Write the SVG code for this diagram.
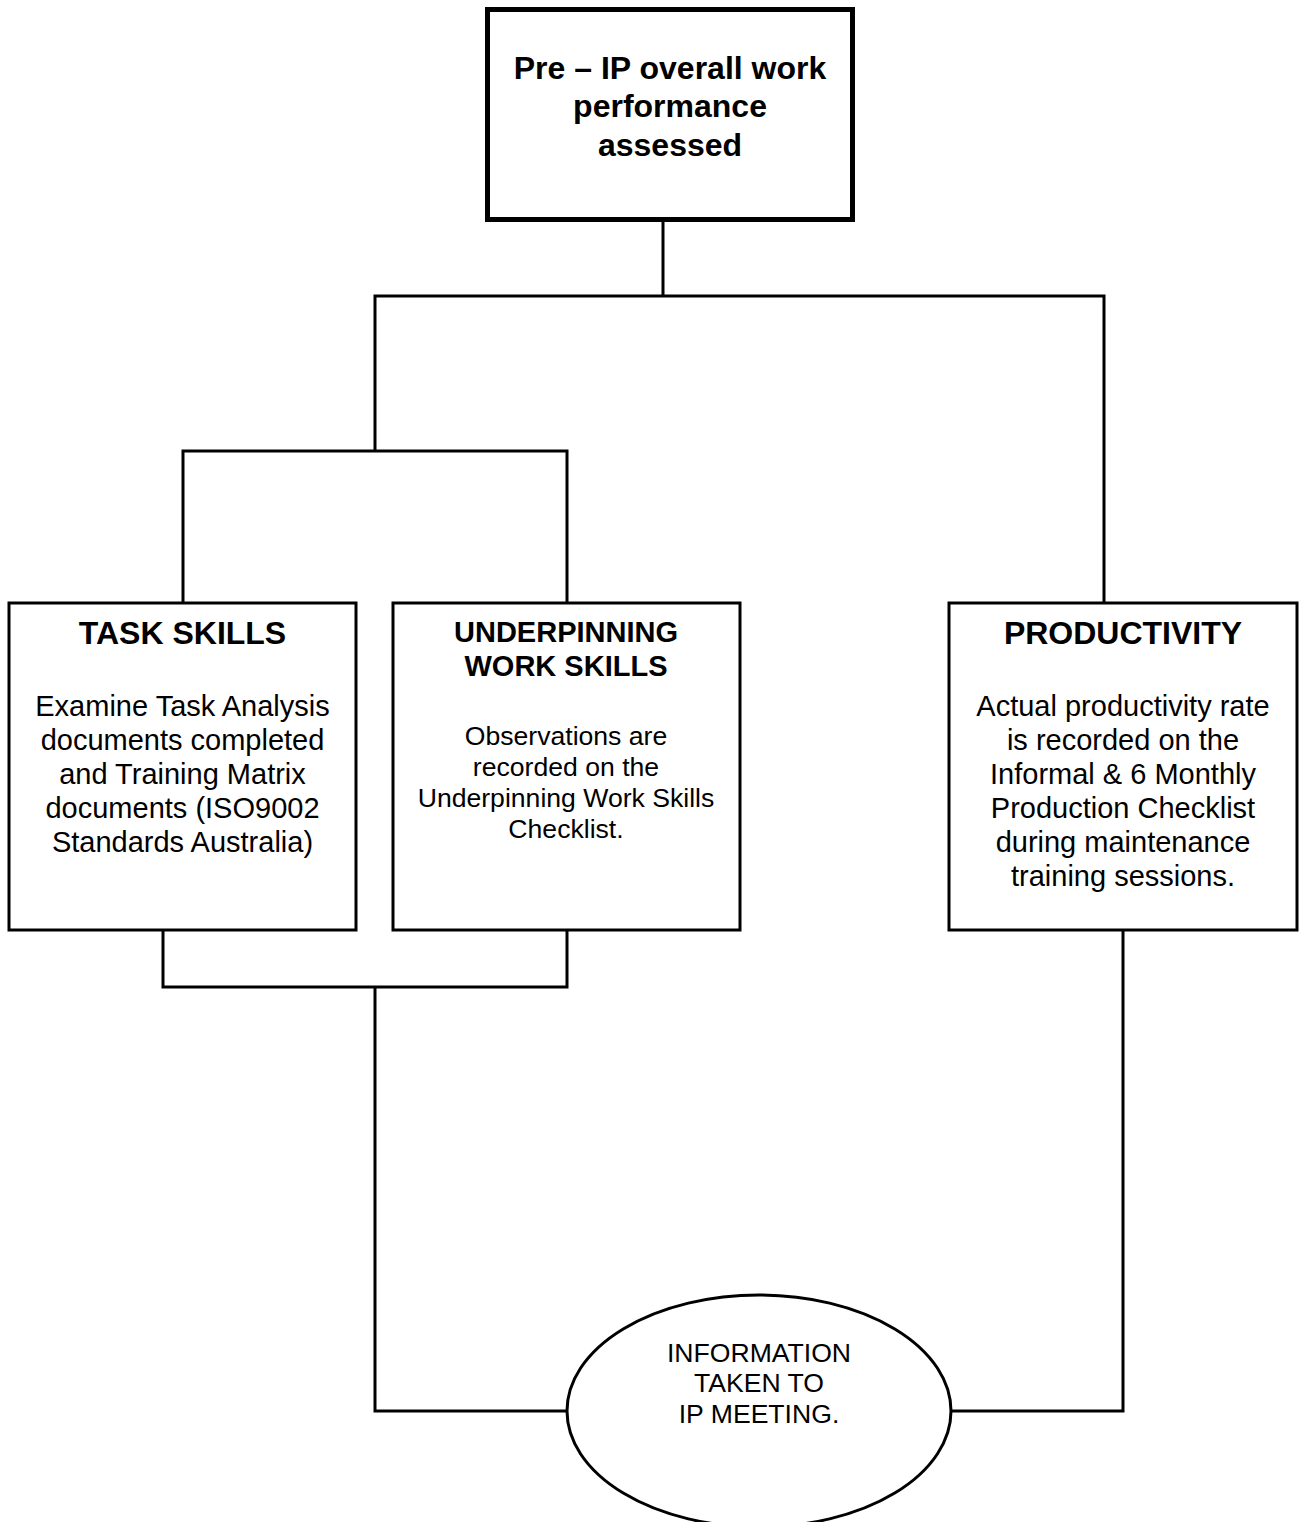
<svg xmlns="http://www.w3.org/2000/svg" width="1303" height="1522" viewBox="0 0 1303 1522">
<style>
  .box { fill: #fff; stroke: #000; stroke-width: 3; }
  .thick { stroke-width: 5; }
  .conn { fill: none; stroke: #000; stroke-width: 3; stroke-linecap: square; }
  text { font-family: "Liberation Sans", Arial, sans-serif; fill: #000; text-anchor: middle; }
  .h32 { font-size: 32px; font-weight: bold; }
  .h29 { font-size: 29px; font-weight: bold; }
  .b29 { font-size: 29px; }
  .b26 { font-size: 26.6px; }
</style>
<rect width="1303" height="1522" fill="#fff"/>
<g id="connectors">
  <path class="conn" d="M663 220 V296 M375 296 H1104 M375 296 V451 M183 451 H567 M183 451 V603 M567 451 V603 M1104 296 V603"/>
  <path class="conn" d="M163 930 V987 M567 930 V987 M163 987 H567 M375 987 V1411 H568"/>
  <path class="conn" d="M1123 930 V1411 H950"/>
</g>
<g id="node-top">
  <rect class="box thick" x="487.5" y="9.5" width="365" height="210"/>
  <text class="h32" x="670" y="79">Pre – IP overall work</text>
  <text class="h32" x="670" y="117">performance</text>
  <text class="h32" x="670" y="156">assessed</text>
</g>
<g id="node-task">
  <rect class="box" x="9" y="603" width="347" height="327"/>
  <text class="h32" x="182.5" y="644">TASK SKILLS</text>
  <text class="b29" x="182.5" y="716">Examine Task Analysis</text>
  <text class="b29" x="182.5" y="750">documents completed</text>
  <text class="b29" x="182.5" y="784">and Training Matrix</text>
  <text class="b29" x="182.5" y="818">documents (ISO9002</text>
  <text class="b29" x="182.5" y="852">Standards Australia)</text>
</g>
<g id="node-underpinning">
  <rect class="box" x="393" y="603" width="347" height="327"/>
  <text class="h29" x="566" y="642">UNDERPINNING</text>
  <text class="h29" x="566" y="676">WORK SKILLS</text>
  <text class="b26" x="566" y="744.5">Observations are</text>
  <text class="b26" x="566" y="775.5">recorded on the</text>
  <text class="b26" x="566" y="806.5">Underpinning Work Skills</text>
  <text class="b26" x="566" y="837.5">Checklist.</text>
</g>
<g id="node-productivity">
  <rect class="box" x="949" y="603" width="348" height="327"/>
  <text class="h32" x="1123" y="644">PRODUCTIVITY</text>
  <text class="b29" x="1123" y="716">Actual productivity rate</text>
  <text class="b29" x="1123" y="750">is recorded on the</text>
  <text class="b29" x="1123" y="784">Informal &amp; 6 Monthly</text>
  <text class="b29" x="1123" y="818">Production Checklist</text>
  <text class="b29" x="1123" y="852">during maintenance</text>
  <text class="b29" x="1123" y="886">training sessions.</text>
</g>
<g id="node-meeting">
  <ellipse class="box" cx="759" cy="1411" rx="192" ry="116"/>
  <text class="b26" x="759" y="1362">INFORMATION</text>
  <text class="b26" x="759" y="1392">TAKEN TO</text>
  <text class="b26" x="759" y="1423">IP MEETING.</text>
</g>
</svg>
